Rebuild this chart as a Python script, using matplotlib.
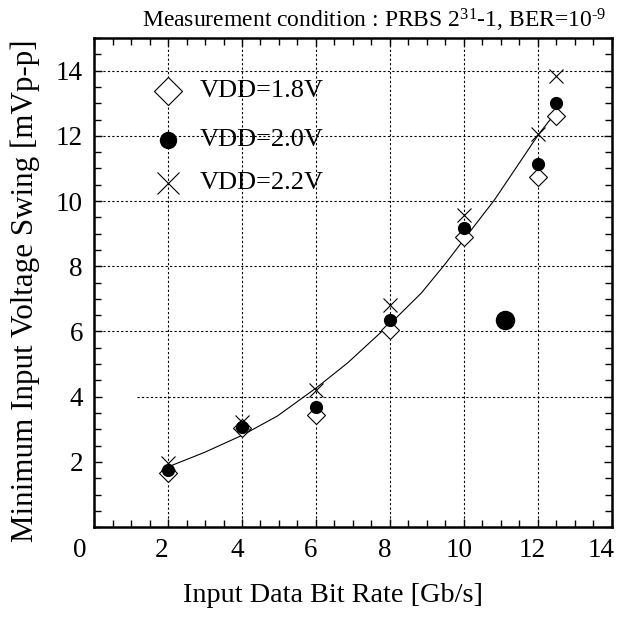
import numpy as np
import matplotlib
matplotlib.use("Agg")
import matplotlib.pyplot as plt
from matplotlib.ticker import MultipleLocator
from matplotlib.transforms import ScaledTranslation

plt.rcParams['font.family'] = ['Liberation Serif', 'DejaVu Serif']
plt.rcParams['mathtext.fontset'] = 'custom'
plt.rcParams['mathtext.rm'] = 'Liberation Serif'
plt.rcParams['mathtext.it'] = 'Liberation Serif:italic'

# Measured points (bit rate in Gb/s, swing in mVp-p)
rate = [2, 4, 6, 8, 10, 12, 12.5]
vdd18 = [1.67, 3.05, 3.44, 6.05, 8.9, 10.75, 12.6]
vdd20 = [1.75, 3.08, 3.69, 6.35, 9.18, 11.13, 13.0]
vdd22 = [1.98, 3.23, 4.2, 6.8, 9.57, 12.05, 13.83]

# stray large dot
stray_x = [11.1]
stray_y = [6.35]

# fitted curve
fit_x = [2.07, 2.98, 4.01, 4.96, 6.02, 6.86, 8.02, 8.85, 9.48, 10.0, 10.83, 11.56, 12.01, 12.37]
fit_y = [1.88, 2.29, 2.82, 3.41, 4.28, 5.04, 6.25, 7.18, 8.05, 8.82, 10.04, 11.27, 12.03, 12.55]

labels = ['VDD=1.8V', 'VDD=2.0V', 'VDD=2.2V']

fig = plt.figure(figsize=(6.23, 6.18), dpi=100)
ax = fig.add_axes([0.151, 0.147, 0.831, 0.7915])

# grid drawn by hand (the lower rows are missing / partial in the original)
grid_kw = dict(color='black', linestyle=(0, (2, 2)), linewidth=0.8, zorder=1)
for gx in [2, 4, 6, 8, 10, 12]:
    ax.axvline(gx, **grid_kw)
for gy in [6, 8, 10, 12, 14]:
    ax.axhline(gy, **grid_kw)
ax.hlines(4, 1.16, 14, **grid_kw)

ax.plot(fit_x, fit_y, color='black', linewidth=0.8, zorder=2)

ax.plot(rate, vdd18, linestyle='none', marker='D', markersize=9.5,
        markerfacecolor='white', markeredgecolor='black', markeredgewidth=0.8, zorder=3)
ax.plot(rate, vdd20, linestyle='none', marker='o', markersize=8.5,
        color='black', zorder=4)
ax.plot(rate, vdd22, linestyle='none', marker='x', markersize=10,
        color='black', markeredgewidth=0.8, zorder=5)
ax.plot(stray_x, stray_y, linestyle='none', marker='o', markersize=13,
        color='black', zorder=4)

# legend drawn in data space
leg_y = [13.37, 11.87, 10.55]
ax.plot(2, leg_y[0], marker='D', markersize=14, markerfacecolor='white',
        markeredgecolor='black', markeredgewidth=0.8, zorder=3)
ax.plot(2, leg_y[1], marker='o', markersize=11.5, color='black', zorder=3)
ax.plot(2, leg_y[2], marker='x', markersize=16, color='black',
        markeredgewidth=0.8, zorder=3)
for ly, lab in zip(leg_y, labels):
    ax.text(2.86, ly, lab, fontsize=19, va='center', ha='left', zorder=6)

ax.set_xlim(0, 14)
ax.set_ylim(0, 15)
ax.set_xticks(range(0, 15, 2))
ax.set_yticks(range(2, 15, 2))
ax.xaxis.set_minor_locator(MultipleLocator(0.5))
ax.yaxis.set_minor_locator(MultipleLocator(0.5))
ax.tick_params(which='both', direction='in', top=True, right=True, labelsize=19.5)
ax.tick_params(which='major', length=6, width=1)
ax.tick_params(which='minor', length=5, width=1)
ax.tick_params(axis='x', pad=8)
ax.tick_params(axis='y', pad=8)
for sp in ax.spines.values():
    sp.set_linewidth(1.8)

# x tick labels sit a little left of their ticks in the original
xshift = [-14, -6, -5, -5, -5, -5, -6, -11]
for lab, dx in zip(ax.get_xticklabels(), xshift):
    lab.set_transform(lab.get_transform() + ScaledTranslation(dx / 100, 0, fig.dpi_scale_trans))

fig.text(0.535, 0.036, 'Input Data Bit Rate [Gb/s]', fontsize=20.3, ha='center', va='center')
fig.text(0.040, 0.529, 'Minimum Input Voltage Swing [mVp-p]', fontsize=22.3,
         ha='center', va='center', rotation=90)
fig.text(0.974, 0.9547, r'Measurement condition : PRBS $2^{31}$-1, BER=$10^{\text{-}9}$',
         fontsize=17, ha='right', va='baseline')

fig.savefig('out.png', dpi=100)
